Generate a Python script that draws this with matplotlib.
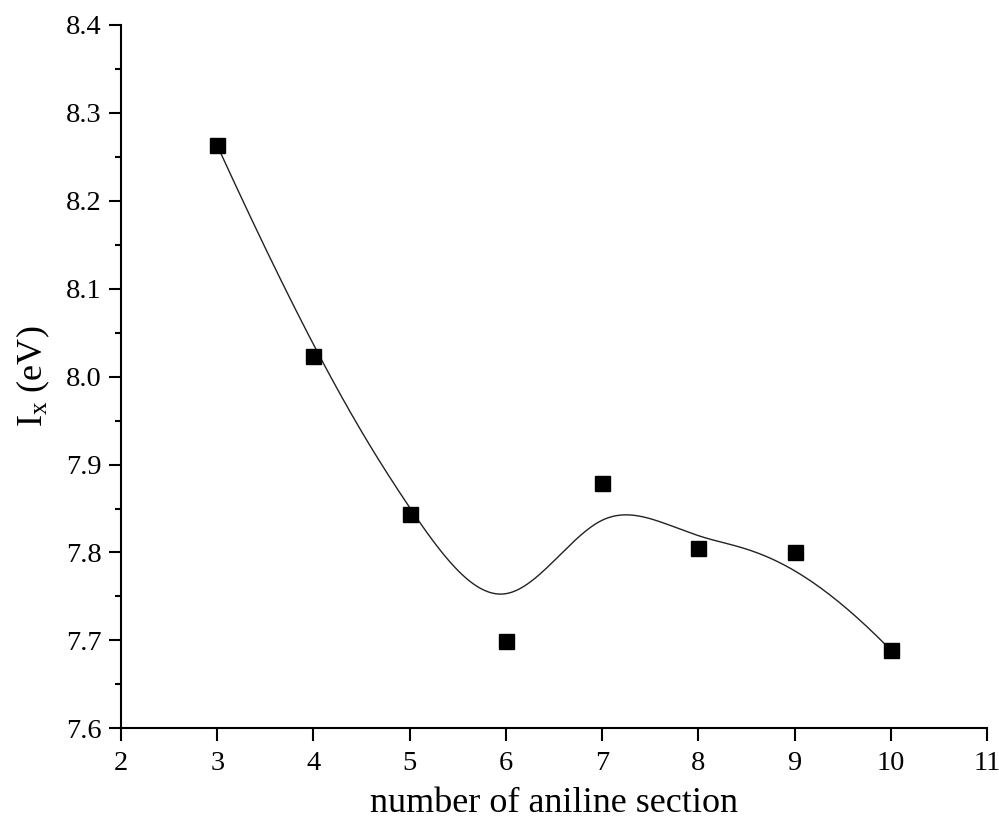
import numpy as np
import matplotlib
matplotlib.use("Agg")
import matplotlib.pyplot as plt

plt.rcParams['font.family'] = ['Liberation Serif', 'DejaVu Serif']
plt.rcParams['mathtext.fontset'] = 'custom'
plt.rcParams['mathtext.rm'] = 'Liberation Serif'

# data
n_aniline = [3, 4, 5, 6, 7, 8, 9, 10]
ix_ev = [8.263, 8.024, 7.844, 7.699, 7.879, 7.805, 7.801, 7.689]


def bspline(xs, ys, k=3, num=400):
    # clamped B-spline with the data points as control points (Origin "B-Spline" connect)
    P = np.column_stack([xs, ys]).astype(float)
    n = len(P)
    inner = np.arange(1, n - k)
    t = np.concatenate([np.zeros(k + 1), inner, np.full(k + 1, n - k)])
    u = np.linspace(0, n - k, num)
    u[-1] -= 1e-9
    N = np.zeros((num, len(t) - 1))
    for i in range(len(t) - 1):
        N[:, i] = (u >= t[i]) & (u < t[i + 1])
    for d in range(1, k + 1):
        Nn = np.zeros((num, len(t) - 1 - d))
        for i in range(len(t) - 1 - d):
            a = 0.0 if t[i + d] == t[i] else (u - t[i]) / (t[i + d] - t[i])
            b = 0.0 if t[i + d + 1] == t[i + 1] else (t[i + d + 1] - u) / (t[i + d + 1] - t[i + 1])
            Nn[:, i] = a * N[:, i] + b * N[:, i + 1]
        N = Nn
    C = N @ P
    return C[:, 0], C[:, 1]


fig = plt.figure(figsize=(9.99, 8.36), dpi=100)
ax = fig.add_axes([0.1211, 0.1288, 0.8669, 0.8413])

cx, cy = bspline(n_aniline, ix_ev)
ax.plot(cx, cy, color='#222222', lw=1.0, zorder=2)
ax.plot(n_aniline, ix_ev, 's', color='black', ms=10.8, zorder=3, clip_on=False)

ax.set_xlim(2, 11)
ax.set_ylim(7.6, 8.4)
ax.set_xticks(range(2, 12))
ax.set_yticks(np.arange(7.6, 8.41, 0.1))
ax.set_yticks(np.arange(7.65, 8.4, 0.1), minor=True)
ax.yaxis.set_major_formatter(matplotlib.ticker.FormatStrFormatter('%.1f'))

for s in ['top', 'right']:
    ax.spines[s].set_visible(False)
for s in ['left', 'bottom']:
    ax.spines[s].set_linewidth(1.5)

ax.tick_params(which='major', direction='out', length=9, width=1.5, labelsize=20.5, pad=5)
ax.tick_params(axis='x', which='major', pad=7)
ax.tick_params(which='minor', direction='out', length=4.5, width=1.5)

ax.set_xlabel('number of aniline section', fontsize=26, labelpad=8)
ax.set_ylabel(r'$\mathregular{I_x}$ (eV)', fontsize=26, labelpad=10)

fig.savefig('out.png', dpi=100)
